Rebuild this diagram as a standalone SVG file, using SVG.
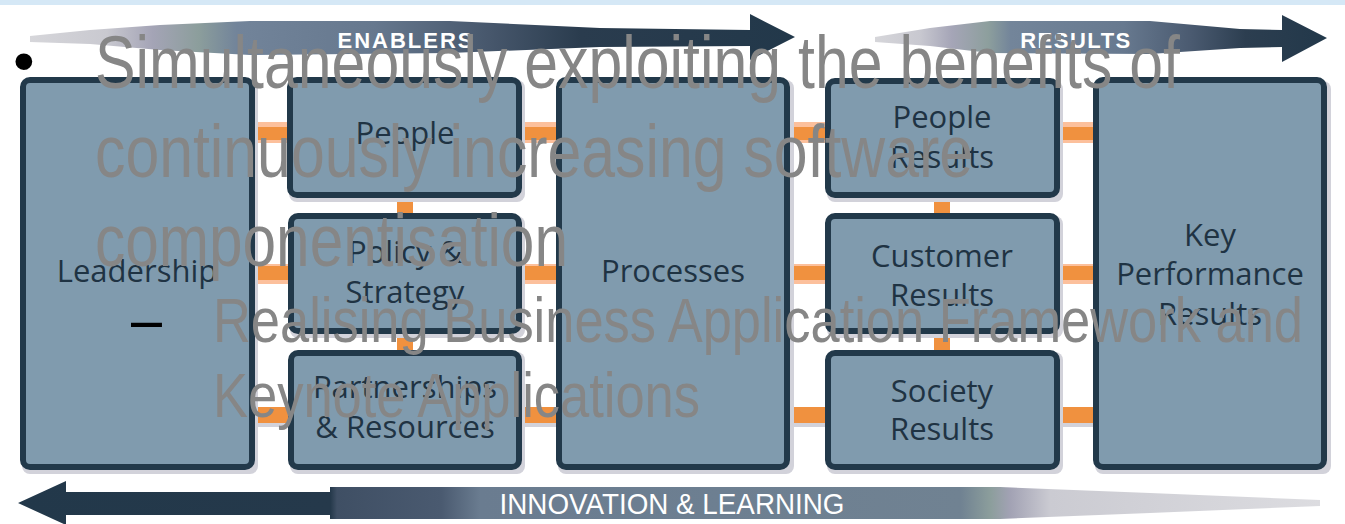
<svg xmlns="http://www.w3.org/2000/svg" width="1345" height="524" viewBox="0 0 1345 524">
<defs>
<style>
.box{fill:#809bae;stroke:#22394a;stroke-width:6}
.shadow{fill:#d2d2da}
.lbl{font-family:"Open Sans","Noto Sans",sans-serif;font-size:31px;fill:#1f3343;text-anchor:middle}
.band{font-family:"Liberation Sans",Arial,sans-serif;font-weight:bold;fill:#ffffff}
.band2{font-family:"Liberation Sans",Arial,sans-serif;font-weight:normal;fill:#ffffff}
.ov{font-family:"Liberation Sans",Arial,sans-serif;fill:#868686}
.blk{font-family:"Liberation Sans",Arial,sans-serif;fill:#000000}
.or{fill:#f0913f}
.pe{fill:#fcc09c}
</style>
<linearGradient id="gEn" gradientUnits="userSpaceOnUse" x1="30" y1="0" x2="795" y2="0">
<stop offset="0" stop-color="#d6d6da"/>
<stop offset="0.1" stop-color="#c9c9d0"/>
<stop offset="0.16" stop-color="#a4a4b6"/>
<stop offset="0.22" stop-color="#8c9e9c"/>
<stop offset="0.27" stop-color="#72849a"/>
<stop offset="0.45" stop-color="#66788e"/>
<stop offset="0.6" stop-color="#47576c"/>
<stop offset="0.72" stop-color="#2a3c4e"/>
<stop offset="1" stop-color="#22384a"/>
</linearGradient>
<linearGradient id="gRe" gradientUnits="userSpaceOnUse" x1="875" y1="0" x2="1327" y2="0">
<stop offset="0" stop-color="#d6d6da"/>
<stop offset="0.1" stop-color="#c8c8d0"/>
<stop offset="0.17" stop-color="#a5a5b7"/>
<stop offset="0.25" stop-color="#8d9f9d"/>
<stop offset="0.3" stop-color="#73859a"/>
<stop offset="0.55" stop-color="#67798f"/>
<stop offset="0.7" stop-color="#4a5a70"/>
<stop offset="0.82" stop-color="#2c3e50"/>
<stop offset="1" stop-color="#22384a"/>
</linearGradient>
<linearGradient id="gIn" gradientUnits="userSpaceOnUse" x1="18" y1="0" x2="1320" y2="0">
<stop offset="0" stop-color="#22384a"/>
<stop offset="0.24" stop-color="#25394b"/>
<stop offset="0.245" stop-color="#3f4f64"/>
<stop offset="0.325" stop-color="#4a5a70"/>
<stop offset="0.355" stop-color="#6a7c90"/>
<stop offset="0.724" stop-color="#708292"/>
<stop offset="0.747" stop-color="#8c9e9c"/>
<stop offset="0.762" stop-color="#a2a2b4"/>
<stop offset="0.793" stop-color="#cbcbd2"/>
<stop offset="1" stop-color="#dcdce0"/>
</linearGradient>
</defs>

<rect x="0" y="0" width="1345" height="524" fill="#ffffff"/>
<rect x="0" y="0" width="1345" height="5" fill="#d5e8f6"/>

<g id="arrow-enablers">
<polygon fill="url(#gEn)" points="30,36 90,30 160,25 250,21 450,21 600,28 750,30 750,14 795,37 750,60 750,46 600,47 450,53 250,55 160,50 90,44 30,42"/>
<text class="band" x="406" y="48" font-size="22" text-anchor="middle" letter-spacing="2">ENABLERS</text>
</g>
<g id="arrow-results">
<polygon fill="url(#gRe)" points="875,37 930,28 990,21 1150,21 1240,29 1282,30 1282,15 1327,38 1282,62 1282,47 1240,48 1150,54 990,53 930,46 875,42"/>
<text class="band" x="1076" y="48" font-size="22" text-anchor="middle" letter-spacing="1.5">RESULTS</text>
</g>
<g id="arrow-innovation">
<polygon fill="url(#gIn)" points="18,503 66,481 66,492 330,492 330,487 1000,487 1150,493 1320,500 1320,506 1150,513 1000,519 330,519 330,515 66,515 66,525"/>
<text class="band2" x="672" y="514" font-size="30" text-anchor="middle" textLength="345" lengthAdjust="spacingAndGlyphs">INNOVATION &amp; LEARNING</text>
</g>

<g id="connectors">
<rect class="pe" x="254" y="122" width="34" height="21"/>
<rect class="or" x="254" y="127" width="34" height="13"/>
<rect class="pe" x="521" y="122" width="36" height="21"/>
<rect class="or" x="521" y="127" width="36" height="13"/>
<rect class="pe" x="789" y="122" width="37" height="21"/>
<rect class="or" x="789" y="127" width="37" height="13"/>
<rect class="pe" x="1059" y="122" width="35" height="21"/>
<rect class="or" x="1059" y="127" width="35" height="13"/>

<rect class="pe" x="254" y="264" width="34" height="20"/>
<rect class="or" x="254" y="266" width="34" height="14"/>
<rect class="pe" x="521" y="264" width="36" height="20"/>
<rect class="or" x="521" y="266" width="36" height="14"/>
<rect class="pe" x="789" y="264" width="37" height="20"/>
<rect class="or" x="789" y="266" width="37" height="14"/>
<rect class="pe" x="1059" y="264" width="35" height="20"/>
<rect class="or" x="1059" y="266" width="35" height="14"/>

<rect class="shadow" x="254" y="423" width="34" height="4"/>
<rect class="or" x="254" y="407" width="34" height="16"/>
<rect class="shadow" x="521" y="423" width="36" height="4"/>
<rect class="or" x="521" y="407" width="36" height="16"/>
<rect class="shadow" x="789" y="423" width="37" height="4"/>
<rect class="or" x="789" y="407" width="37" height="16"/>
<rect class="shadow" x="1059" y="423" width="35" height="4"/>
<rect class="or" x="1059" y="407" width="35" height="16"/>

<rect class="or" x="397" y="196" width="16" height="19"/>
<rect class="or" x="397" y="332" width="16" height="20"/>
<rect class="or" x="934" y="196" width="16" height="19"/>
<rect class="or" x="934" y="332" width="16" height="20"/>
</g>

<g id="node-leadership">
<rect class="shadow" x="22" y="80" width="236" height="394" rx="8"/>
<rect class="box" x="23" y="80" width="229" height="387" rx="7"/>
<text class="lbl" x="137" y="282">Leadership</text>
</g>
<g id="node-people">
<rect class="shadow" x="289" y="80" width="236" height="122" rx="8"/>
<rect class="box" x="290" y="80" width="229" height="115" rx="7"/>
<text class="lbl" x="405" y="144">People</text>
</g>
<g id="node-policy">
<rect class="shadow" x="290" y="216" width="235" height="122" rx="8"/>
<rect class="box" x="291" y="216" width="228" height="115" rx="7"/>
<text class="lbl" x="405" y="263">Policy &amp;</text>
<text class="lbl" x="405" y="303">Strategy</text>
</g>
<g id="node-partnerships">
<rect class="shadow" x="290" y="352" width="235" height="122" rx="8"/>
<rect class="box" x="291" y="353" width="228" height="114" rx="7"/>
<text class="lbl" x="405" y="398">Partnerships</text>
<text class="lbl" x="405" y="438">&amp; Resources</text>
</g>
<g id="node-processes">
<rect class="shadow" x="558" y="80" width="236" height="394" rx="8"/>
<rect class="box" x="559" y="80" width="228" height="387" rx="7"/>
<text class="lbl" x="673" y="282">Processes</text>
</g>
<g id="node-people-results">
<rect class="shadow" x="827" y="81" width="236" height="121" rx="8"/>
<rect class="box" x="828" y="81" width="229" height="114" rx="7"/>
<text class="lbl" x="942" y="128">People</text>
<text class="lbl" x="942" y="168">Results</text>
</g>
<g id="node-customer-results">
<rect class="shadow" x="827" y="216" width="236" height="122" rx="8"/>
<rect class="box" x="828" y="216" width="229" height="115" rx="7"/>
<text class="lbl" x="942" y="267">Customer</text>
<text class="lbl" x="942" y="306">Results</text>
</g>
<g id="node-society-results">
<rect class="shadow" x="827" y="352" width="236" height="122" rx="8"/>
<rect class="box" x="828" y="353" width="229" height="114" rx="7"/>
<text class="lbl" x="942" y="402">Society</text>
<text class="lbl" x="942" y="440">Results</text>
</g>
<g id="node-key-results">
<rect class="shadow" x="1095" y="81" width="236" height="393" rx="8"/>
<rect class="box" x="1096" y="80" width="228" height="387" rx="7"/>
<text class="lbl" x="1210" y="246">Key</text>
<text class="lbl" x="1210" y="285">Performance</text>
<text class="lbl" x="1210" y="325">Results</text>
</g>

<g id="slide-text">
<text class="blk" x="13" y="82" font-size="62">•</text>
<text class="ov" x="95" y="88" font-size="74" textLength="1085" lengthAdjust="spacingAndGlyphs">Simultaneously exploiting the benefits of</text>
<text class="ov" x="95" y="177" font-size="74" textLength="878" lengthAdjust="spacingAndGlyphs">continuously increasing software</text>
<text class="ov" x="95" y="266" font-size="74" textLength="473" lengthAdjust="spacingAndGlyphs">componentisation</text>
<text class="blk" x="131" y="341" font-size="63" textLength="31" lengthAdjust="spacingAndGlyphs">–</text>
<text class="ov" x="213" y="342" font-size="63" textLength="1090" lengthAdjust="spacingAndGlyphs">Realising Business Application Framework and</text>
<text class="ov" x="213" y="417" font-size="63" textLength="487" lengthAdjust="spacingAndGlyphs">Keynote Applications</text>
</g>
</svg>
